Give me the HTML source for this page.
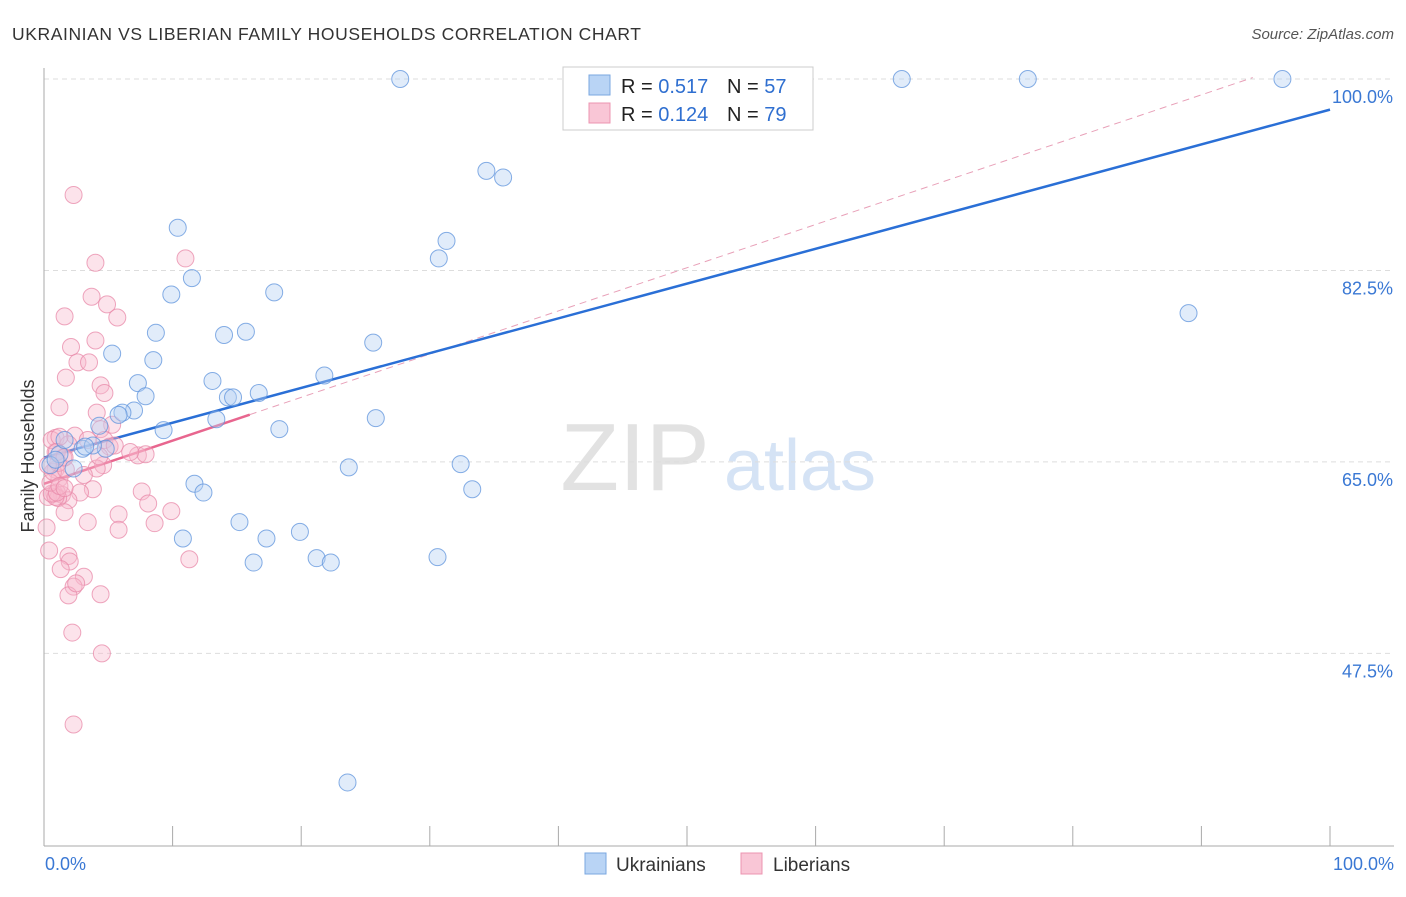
<!DOCTYPE html>
<html><head><meta charset="utf-8"><style>
body{margin:0;background:#fff;font-family:"Liberation Sans",sans-serif;}
svg text{font-family:"Liberation Sans",sans-serif;}
</style></head><body>
<svg id="chart" width="1406" height="892">
<text x="12" y="40" font-size="17.5" fill="#333" textLength="629" lengthAdjust="spacing">UKRAINIAN VS LIBERIAN FAMILY HOUSEHOLDS CORRELATION CHART</text>
<text x="1394" y="39" font-size="15" fill="#555" font-style="italic" text-anchor="end">Source: ZipAtlas.com</text>
<text x="34" y="456" font-size="18" fill="#333" text-anchor="middle" transform="rotate(-90 34 456)">Family Households</text>
<g><text x="635" y="490" font-size="96" fill="#e2e2e2" font-family="Liberation Serif" text-anchor="middle">ZIP</text><text x="800" y="490" font-size="72" fill="#d5e3f5" text-anchor="middle">atlas</text></g>
<g id="grid"></g>
<g id="axes"></g>
<g id="lines"></g>
<g id="pts"></g>
<g>
<rect x="563" y="67" width="250" height="63" fill="#fff" stroke="#ccc"/>
<rect x="589" y="75" width="21" height="20" fill="#b9d4f5" stroke="#7aa7e0"/>
<rect x="589" y="103" width="21" height="20" fill="#f9c6d6" stroke="#ec94b0"/>
<text x="621" y="93" font-size="20" fill="#222">R = <tspan fill="#2f6fd0">0.517</tspan><tspan x="727">N = </tspan><tspan fill="#2f6fd0">57</tspan></text>
<text x="621" y="121" font-size="20" fill="#222">R = <tspan fill="#2f6fd0">0.124</tspan><tspan x="727">N = </tspan><tspan fill="#2f6fd0">79</tspan></text>
</g>
<g>
<rect x="585" y="853" width="21" height="21" fill="#b9d4f5" stroke="#7aa7e0"/>
<text x="616" y="871" font-size="19" fill="#333">Ukrainians</text>
<rect x="741" y="853" width="21" height="21" fill="#f9c6d6" stroke="#ec94b0"/>
<text x="773" y="871" font-size="19" fill="#333">Liberians</text>
</g>
<text x="45" y="870" font-size="18" fill="#3a78d4">0.0%</text>
<text x="1394" y="870" font-size="18" fill="#3a78d4" text-anchor="end">100.0%</text>
</svg>
<script>
const yTicks=[100,82.5,65,47.5];
const yTickLabels=["100.0%","82.5%","65.0%","47.5%"];
const xTicks=[0,10,20,30,40,50,60,70,80,90,100];
const ukrX=[27.7,66.7,76.5,96.3,34.4,35.7,10.4,31.3,30.7,11.5,9.9,17.9,89.0,8.7,14.0,15.7,25.6,5.3,8.5,21.8,13.1,7.3,7.9,14.3,14.7,16.7,7.0,6.1,5.8,25.8,13.4,4.3,9.3,18.3,4.8,3.0,3.8,3.2,1.2,2.3,23.7,32.4,11.7,33.3,12.4,15.2,10.8,19.9,17.3,21.2,22.3,16.3,30.6,23.6,0.5,0.9,1.6];
const ukrY=[100,100,100,100,91.6,91.0,86.4,85.2,83.6,81.8,80.3,80.5,78.6,76.8,76.6,76.9,75.9,74.9,74.3,72.9,72.4,72.2,71.0,70.9,70.9,71.3,69.7,69.5,69.3,69.0,68.9,68.3,67.9,68.0,66.2,66.2,66.5,66.4,65.7,64.4,64.5,64.8,63.0,62.5,62.2,59.5,58.0,58.6,58.0,56.2,55.8,55.8,56.3,35.7,64.7,65.2,67.0];
const libX=[2.3,11.0,4.0,3.7,4.9,5.7,1.6,4.0,2.1,2.6,3.5,1.7,4.4,4.7,1.2,4.1,5.3,4.4,0.9,2.4,4.7,1.9,5.1,0.9,7.3,7.9,1.5,4.6,4.1,0.9,3.1,1.2,3.8,7.6,2.8,1.4,8.1,0.8,0.3,1.9,1.1,1.6,5.8,9.9,3.4,8.6,0.2,5.8,11.3,1.9,2.0,1.3,0.4,3.1,2.3,1.9,2.5,4.4,2.2,4.5,2.3,0.9,0.6,1.0,0.5,0.7,1.1,1.7,1.2,1.6,3.4,4.3,5.5,0.3,0.6,1.2,1.0,6.7,1.6];
const libY=[89.4,83.6,83.2,80.1,79.4,78.2,78.3,76.1,75.5,74.1,74.1,72.7,72.0,71.3,70.0,69.5,68.4,68.0,67.2,67.4,67.0,66.6,66.4,65.9,65.6,65.7,65.4,64.7,64.4,64.3,63.8,63.5,62.5,62.3,62.2,62.0,61.2,62.1,61.8,61.5,61.7,60.4,60.2,60.5,59.5,59.4,59.0,58.8,56.1,56.4,55.9,55.2,56.9,54.5,53.6,52.8,53.9,52.9,49.4,47.5,41.0,61.8,62.1,62.2,63.1,64.1,64.9,64.3,62.8,62.6,67.0,65.5,66.5,64.7,67.0,67.3,65.9,65.9,65.4];
const ukrFit=[65.4,97.2];
const libFit=[63.0,102.5];
const libSolidEnd=16;
const NS="http://www.w3.org/2000/svg";
const sx=v=>44+v*12.86, sy=v=>79+(100-v)*10.94;
function mk(tag,attrs,parent){const e=document.createElementNS(NS,tag);for(const k in attrs)e.setAttribute(k,attrs[k]);document.getElementById(parent).appendChild(e);return e;}
yTicks.forEach((t,i)=>{
 const l=mk('line',{x1:44,x2:1394,y1:sy(t),y2:sy(t),stroke:'#ddd','stroke-dasharray':'5,4'},'grid');
 
 
 const tx=mk('text',{x:1393,y:sy(t)+24,'font-size':18,fill:'#3a78d4','text-anchor':'end'},'grid');
 tx.textContent=yTickLabels[i];
 
 
});
const ya=mk('line',{x1:44,x2:44,y1:68,y2:846,stroke:'#aaa'},'axes');


const xa=mk('line',{x1:44,x2:1394,y1:846,y2:846,stroke:'#aaa'},'axes');


xTicks.forEach(t=>{const l=mk('line',{x1:sx(t),x2:sx(t),y1:826,y2:846,stroke:'#aaa'},'axes');
 
 });
const fy=(f,x)=>f[0]+(f[1]-f[0])*x/100;
let d=mk('line',{x1:sx(libSolidEnd),y1:sy(fy(libFit,libSolidEnd)),x2:sx(94),y2:sy(fy(libFit,94)),stroke:'#e8a0b8','stroke-width':1,'stroke-dasharray':'7,5'},'lines');


function pts(X,Y,fill,stroke,name){X.forEach((x,i)=>{const c=mk('circle',{cx:sx(x),cy:sy(Y[i]),r:8.5,fill:fill,'fill-opacity':0.4,stroke:stroke,'stroke-opacity':0.75,'stroke-width':1},'pts');
 
 });}
pts(libX,libY,'#f7b9cc','#e888a8','liberians-point');
pts(ukrX,ukrY,'#b3cff2','#5d93dc','ukrainians-point');
let b=mk('line',{x1:sx(0),y1:sy(ukrFit[0]),x2:sx(100),y2:sy(ukrFit[1]),stroke:'#2a6fd6','stroke-width':2.5},'lines');


let p=mk('line',{x1:sx(0),y1:sy(libFit[0]),x2:sx(libSolidEnd),y2:sy(fy(libFit,libSolidEnd)),stroke:'#e8668f','stroke-width':2.5},'lines');


</script>
</body></html>
